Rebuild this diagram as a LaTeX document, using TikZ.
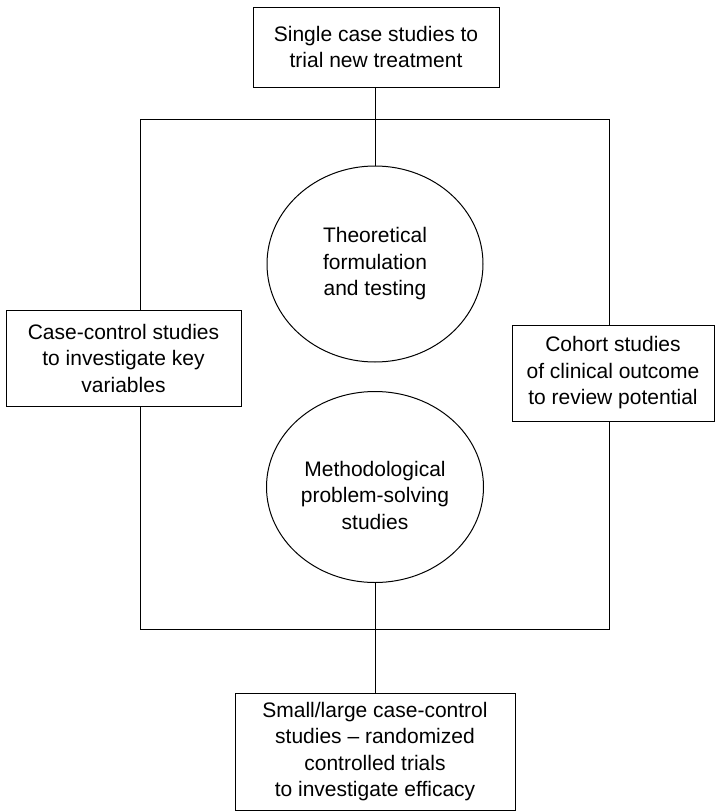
\documentclass[tikz,border=0pt]{standalone}
\usepackage{fontspec}
\setmainfont{Liberation Sans}
\usetikzlibrary{shapes.geometric}
\begin{document}
\begin{tikzpicture}[x=1pt,y=-1pt,
  txt/.style={align=center,font=\fontsize{21}{26.5}\selectfont,inner sep=0pt},
  boxnode/.style={txt,draw,line width=1pt,fill=white},
  ellnode/.style={txt,draw,line width=1pt,ellipse,fill=white},
  conn/.style={line width=1pt}]
\useasboundingbox (0,0) rectangle (715,811);
\node[boxnode,minimum width=246pt,minimum height=80pt] (top) at (376,47) {Single case studies to\\trial new treatment};
\node[boxnode,minimum width=235pt,minimum height=96pt] (left) at (123.5,358) {Case-control studies\\to investigate key\\variables};
\node[boxnode,minimum width=202pt,minimum height=96pt] (right) at (613,373) {Cohort studies\\of clinical outcome\\to review potential};
\node[boxnode,minimum width=280pt,minimum height=117pt] (bot) at (375,751.5) {Small/large case-control\\studies -- randomized\\controlled trials\\to investigate efficacy};
\node[ellnode,minimum width=216pt,minimum height=196pt] (e1) at (375,264) {Theoretical\\formulation\\and testing};
\node[ellnode,minimum width=217pt,minimum height=191pt,
  label={[txt,yshift=-8pt]center:Methodological\\problem-solving\\studies}] (e2) at (375,487) {};
\coordinate (tl) at (140,119);
\coordinate (tr) at (609,119);
\coordinate (bl) at (140,629);
\coordinate (br) at (609,629);
\draw[conn] (left.north -| tl) -- (tl) -- (tr) -- (tr |- right.north);
\draw[conn] (right.south -| tr) -- (br) -- (bl) -- (bl |- left.south);
\draw[conn] (top.south -| e1.north) -- (e1.north);
\draw[conn] (e2.south) -- (bot.north -| e2.south);
\end{tikzpicture}
\end{document}
